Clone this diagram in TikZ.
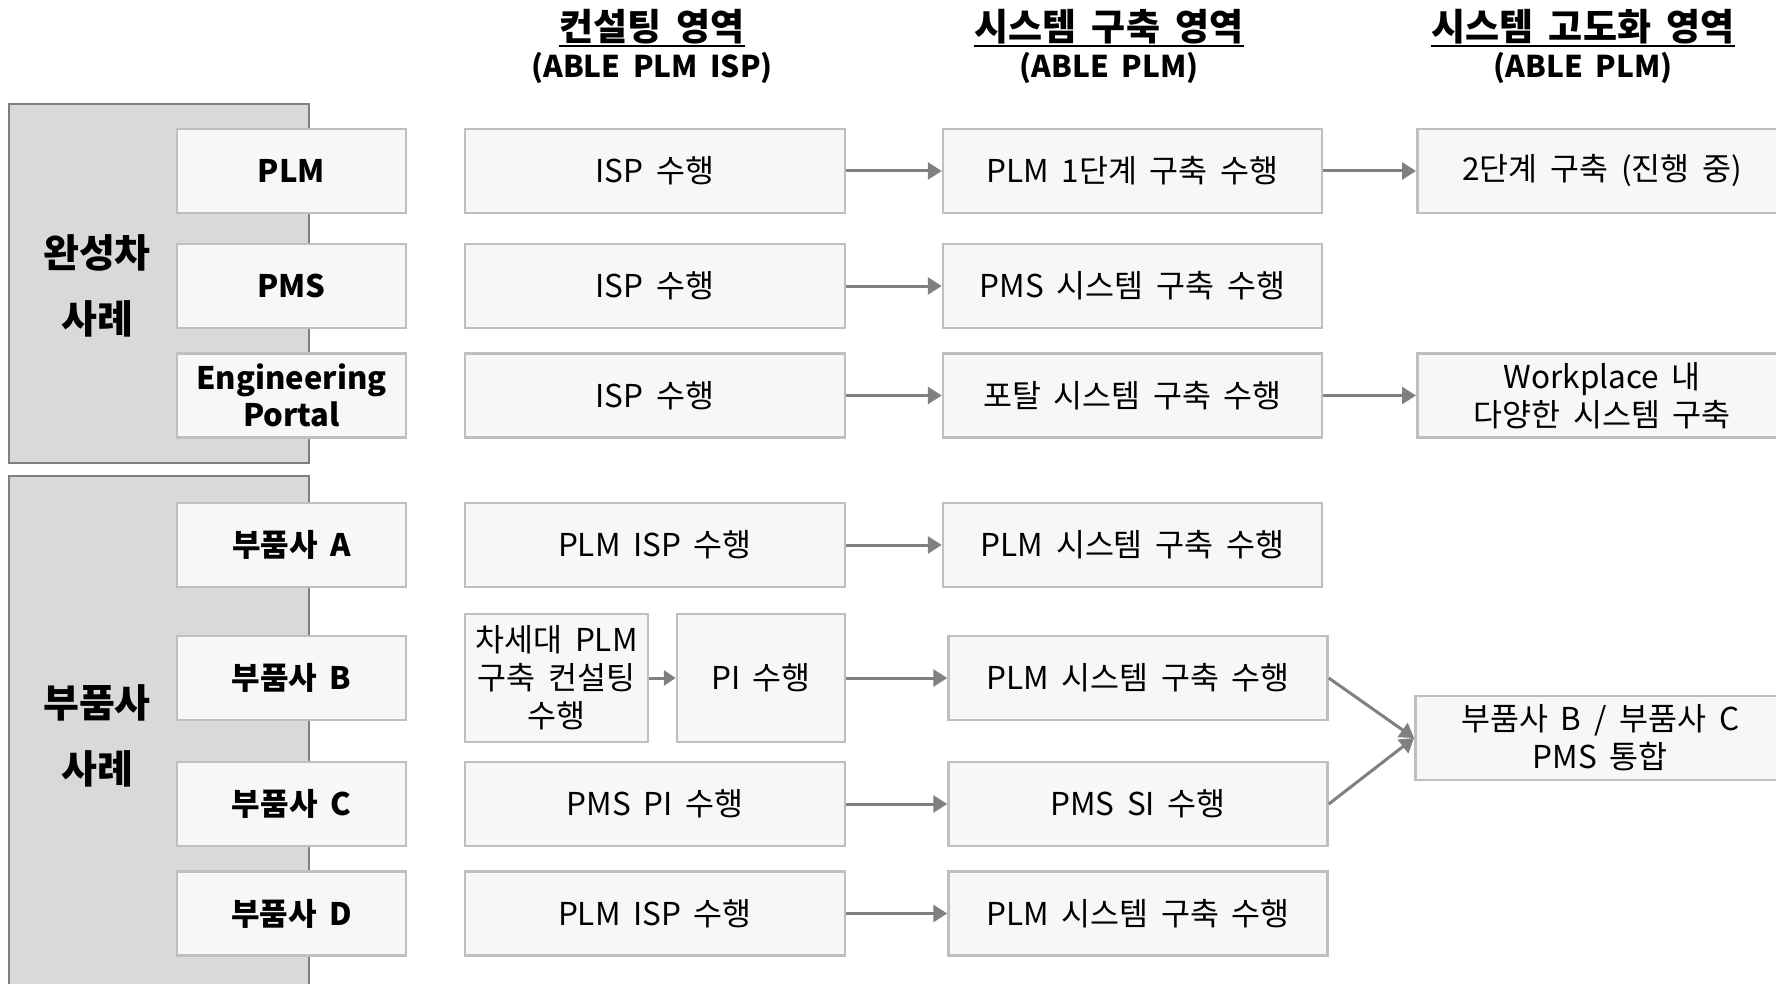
\documentclass[tikz,border=0pt]{standalone}
\usepackage{fontspec}
\setmainfont[WordSpace=1.8]{Noto Sans CJK KR}
\usetikzlibrary{arrows.meta}
\definecolor{boxfill}{HTML}{F7F7F7}
\definecolor{boxline}{HTML}{BFBFBF}
\definecolor{panelfill}{HTML}{D9D9D9}
\definecolor{panelline}{HTML}{7F7F7F}
\definecolor{arrowc}{HTML}{808080}
\begin{document}
\begin{tikzpicture}[x=1pt,y=-1pt,
  cell/.style={draw=boxline, fill=boxfill, line width=2.5pt, minimum height=84pt, inner sep=0pt, align=center, font=\fontsize{31.5}{38}\selectfont},
  lab/.style={cell, minimum width=229pt, font=\fontsize{31}{37}\selectfont\bfseries},
  cone/.style={cell, minimum width=380pt},
  ctwo/.style={cell, minimum width=379pt},
  cthree/.style={cell, minimum width=370pt, anchor=west},
  flow/.style={draw=arrowc, line width=3pt, -{Triangle[length=14pt,width=17pt]}},
  panel/.style={draw=panelline, fill=panelfill, line width=2pt, anchor=north west, minimum width=300pt, inner sep=0pt},
  side/.style={font=\fontsize{39}{66}\selectfont\bfseries, align=center, inner sep=0pt},
  head/.style={font=\fontsize{37}{42}\selectfont\bfseries, inner sep=0pt, anchor=base},
  sub/.style={font=\fontsize{30}{36}\selectfont\bfseries, inner sep=0pt, anchor=base},
  uline/.style={line width=2.5pt, draw=black}
]
\useasboundingbox (0,0) rectangle (1776,984);

% headings
\node[head] (h1) at (652,41) {컨설팅 영역};
\node[sub] (s1) at (652,78) {(ABLE PLM ISP)};
\node[head] (h2) at (1109,41) {시스템 구축 영역};
\node[sub] (s2) at (1109,78) {(ABLE PLM)};
\node[head] (h3) at (1583,41) {시스템 고도화 영역};
\node[sub] (s3) at (1583,78) {(ABLE PLM)};
\draw[uline] ([yshift=-5pt]h1.base west) -- ([yshift=-5pt]h1.base east);
\draw[uline] ([yshift=-5pt]h2.base west) -- ([yshift=-5pt]h2.base east);
\draw[uline] ([yshift=-5pt]h3.base west) -- ([yshift=-5pt]h3.base east);

% side panels
\node[panel, minimum height=359pt] (p1) at (8,103) {};
\node[panel, minimum height=540pt] (p2) at (8,475) {};
\node[side] (t1) at (97,286) {완성차\\사례};
\node[side] (t2) at (97,736) {부품사\\사례};

% row labels
\node[lab] (lPLM) at (291.5,171) {PLM};
\node[lab] (lPMS) at (291.5,286) {PMS};
\node[lab] (lEP) at (291.5,395.5) {Engineering\\Portal};
\node[lab] (lA) at (291.5,545) {부품사 A};
\node[lab] (lB) at (291.5,678) {부품사 B};
\node[lab] (lC) at (291.5,804) {부품사 C};
\node[lab] (lD) at (291.5,913.5) {부품사 D};

% column 1
\node[cone] (a1) at (655,171) {ISP 수행};
\node[cone] (a2) at (655,286) {ISP 수행};
\node[cone] (a3) at (655,395.5) {ISP 수행};
\node[cone] (aA) at (655,545) {PLM ISP 수행};
\node[cell, minimum width=183pt, minimum height=128pt] (aB1) at (556.5,678) {차세대 PLM\\구축 컨설팅\\수행};
\node[cell, minimum width=168pt, minimum height=128pt] (aB2) at (761,678) {PI 수행};
\node[cone] (aC) at (655,804) {PMS PI 수행};
\node[cone] (aD) at (655,913.5) {PLM ISP 수행};

% column 2
\node[ctwo] (b1) at (1132.5,171) {PLM 1단계 구축 수행};
\node[ctwo] (b2) at (1132.5,286) {PMS 시스템 구축 수행};
\node[ctwo] (b3) at (1132.5,395.5) {포탈 시스템 구축 수행};
\node[ctwo] (bA) at (1132.5,545) {PLM 시스템 구축 수행};
\node[ctwo] (bB) at (1138,678) {PLM 시스템 구축 수행};
\node[ctwo] (bC) at (1138,804) {PMS SI 수행};
\node[ctwo] (bD) at (1138,913.5) {PLM 시스템 구축 수행};

% column 3
\node[cthree] (c1) at (1416,171) {2단계 구축 (진행 중)};
\node[cthree] (c3) at (1416,395.5) {Workplace 내\\다양한 시스템 구축};
\node[cthree] (cBC) at (1414,738) {부품사 B / 부품사 C\\PMS 통합};

% arrows
\draw[flow] (a1) -- (b1);
\draw[flow] (b1) -- (c1);
\draw[flow] (a2) -- (b2);
\draw[flow] (a3) -- (b3);
\draw[flow] (b3) -- (c3);
\draw[flow] (aA) -- (bA);
\draw[flow, -{Triangle[length=12pt,width=15pt]}] (aB1) -- (aB2);
\draw[flow] (aB2) -- (bB);
\draw[flow] (aC) -- (bC);
\draw[flow] (aD) -- (bD);
\draw[flow] (bB.east) -- (cBC.west);
\draw[flow] (bC.east) -- (cBC.west);
\end{tikzpicture}
\end{document}
